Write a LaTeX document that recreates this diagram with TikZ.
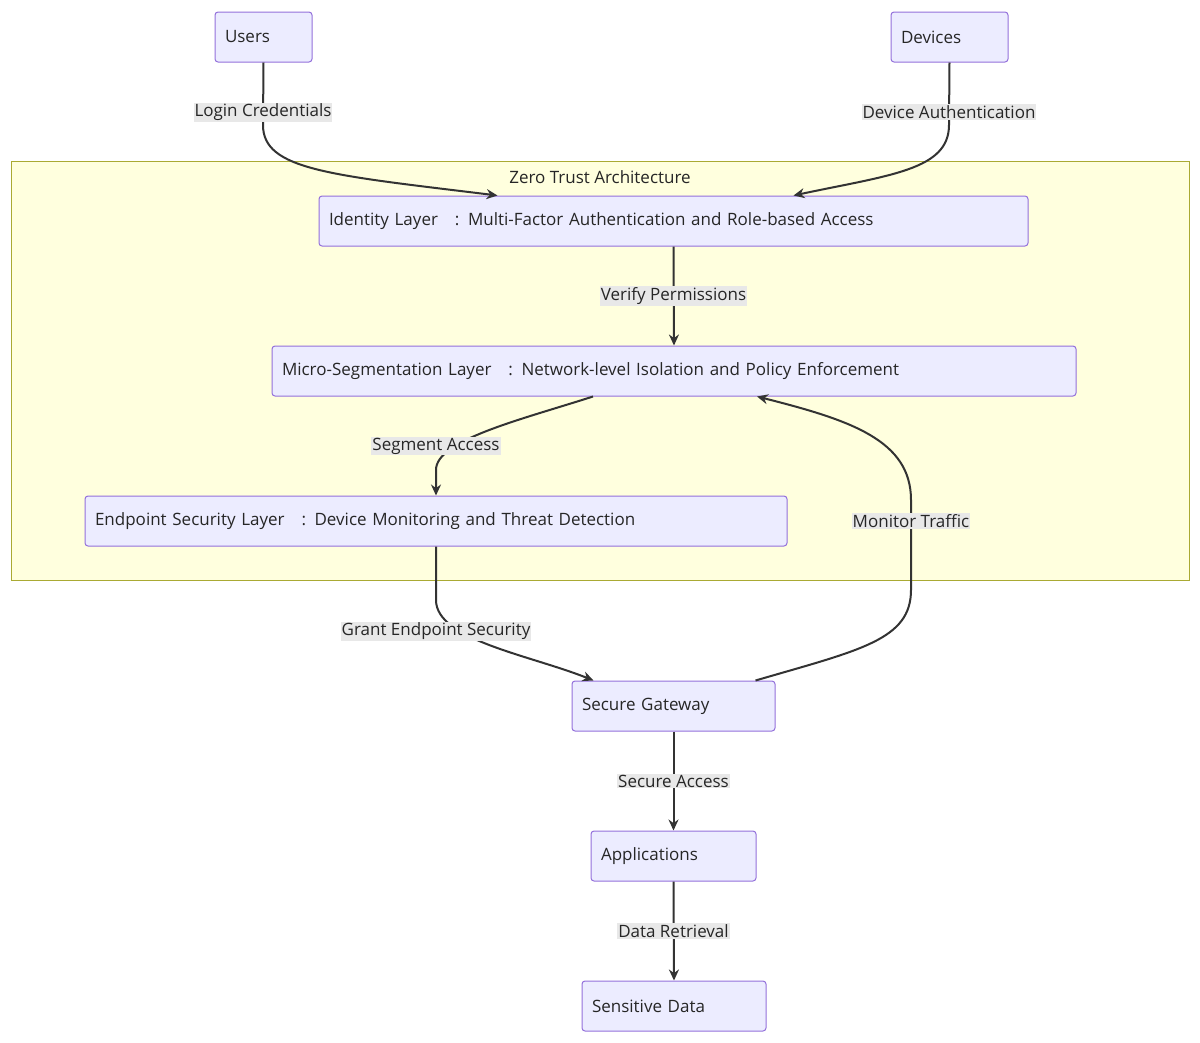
\documentclass[tikz,border=0pt]{standalone}
\usepackage{fontspec}
\setmainfont{Open Sans}
\usetikzlibrary{arrows.meta}
\definecolor{nfill}{HTML}{ECECFF}
\definecolor{nborder}{HTML}{9370DB}
\definecolor{cfill}{HTML}{FFFFDE}
\definecolor{cborder}{HTML}{AAAA33}
\definecolor{lbg}{HTML}{E8E8E8}
\definecolor{edge}{HTML}{333333}
\begin{document}
\begin{tikzpicture}[x=1pt,y=-1pt,
  box/.style={draw=nborder,fill=nfill,rounded corners=3pt,line width=1pt,minimum height=50pt,inner xsep=10pt,inner ysep=0pt,align=left,font=\fontsize{17}{20}\selectfont,text=black!85},
  lab/.style={fill=lbg,inner sep=1pt,font=\fontsize{17}{20}\selectfont,text=black!85},
  e/.style={draw=edge,line width=2pt,-{Stealth[length=11pt,width=10pt]}},
  el/.style={draw=edge,line width=2pt}]
\useasboundingbox (0,0) rectangle (1200,1042);
\node[draw=cborder,fill=cfill,line width=1pt,minimum width=1178pt,minimum height=419pt,inner sep=0pt] (zt) at (600,370.5) {};
\node[font=\fontsize{17}{20}\selectfont,text=black!85] (ztl) at (600,177) {Zero Trust Architecture};
\node[box,text width=77pt] (users) at (263.5,37) {Users};
\node[box,text width=97pt] (devices) at (949.5,37) {Devices};
\node[box,text width=689pt] (identity) at (673.5,221) {Identity Layer \ \ : Multi-Factor Authentication and Role-based Access};
\node[box,text width=784pt] (micro) at (674,371) {Micro-Segmentation Layer \ \ : Network-level Isolation and Policy Enforcement};
\node[box,text width=682pt] (endpoint) at (436,521) {Endpoint Security Layer \ \ : Device Monitoring and Threat Detection};
\node[box,text width=183pt] (gateway) at (673.5,706) {Secure Gateway};
\node[box,text width=145pt] (apps) at (673.5,856) {Applications};
\node[box,text width=164pt] (data) at (674,1006) {Sensitive Data};
\coordinate (c1) at (263,125);
\coordinate (c2) at (949,125);
\draw[e] (users.south) -- (c1) .. controls (263,170) and (330,175) .. ([xshift=-176pt]identity.north);
\draw[e] (devices.south) -- (c2) .. controls (949,170) and (890,175) .. ([xshift=120pt]identity.north);
\draw[e] (identity.south) -- (micro.north);
\draw[e] ([xshift=-81pt]micro.south) .. controls (520,420) and (436,440) .. (436,470) -- (endpoint.north);
\draw[e] (endpoint.south) -- (436,600) .. controls (436,640) and (530,655) .. ([xshift=-80pt]gateway.north);
\draw[e] ([xshift=82pt]gateway.north) .. controls (860,650) and (911,640) .. (911,590) -- (911,500) .. controls (911,440) and (850,420) .. ([xshift=83pt]micro.south);
\draw[e] (gateway.south) -- (apps.north);
\draw[e] (apps.south) -- (data.north);
\node[lab] (l1) at (263,112) {Login Credentials};
\node[lab] (l2) at (949,112) {Device Authentication};
\node[lab] (l3) at (673.5,296) {Verify Permissions};
\node[lab] (l4) at (436,446) {Segment Access};
\node[lab] (l5) at (911,521) {Monitor Traffic};
\node[lab] (l6) at (436,631) {Grant Endpoint Security};
\node[lab] (l7) at (673.5,781) {Secure Access};
\node[lab] (l8) at (673.5,931) {Data Retrieval};
\end{tikzpicture}
\end{document}
